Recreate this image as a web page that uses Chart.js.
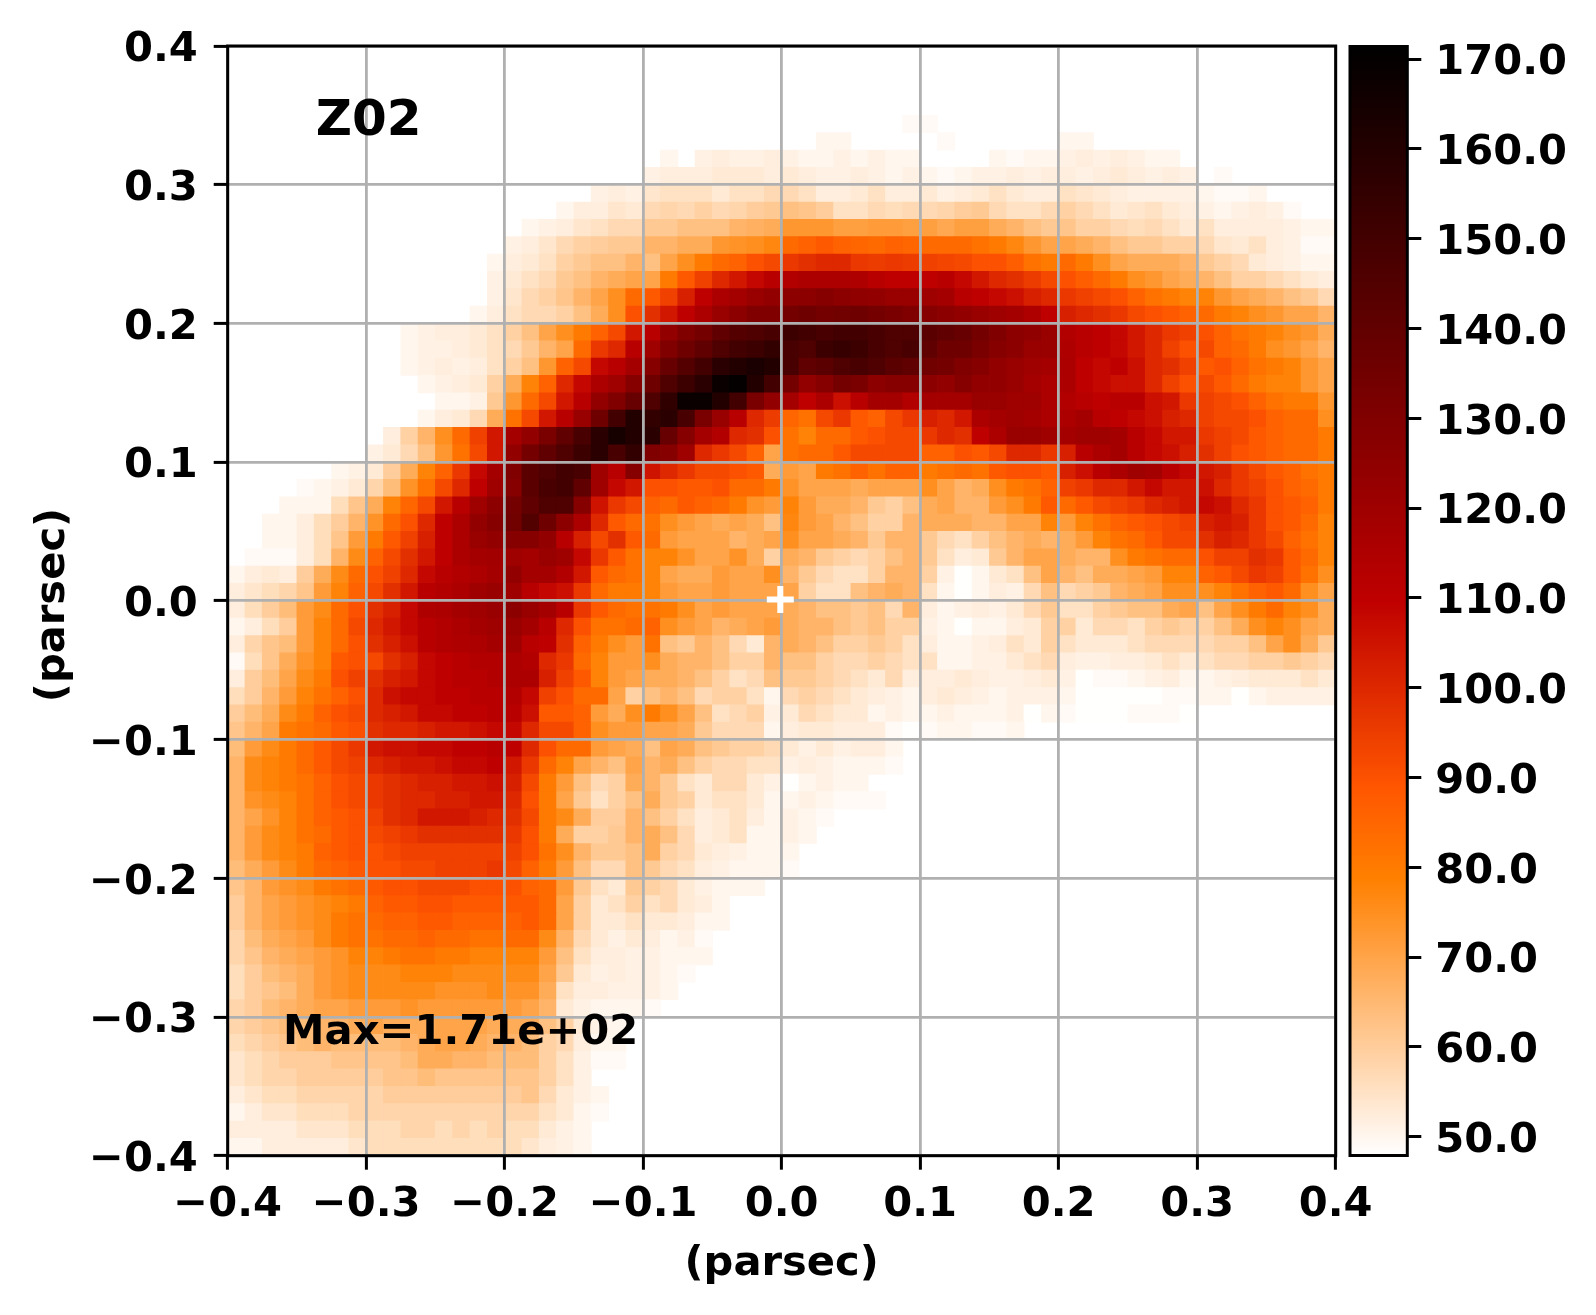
<!DOCTYPE html>
<html>
<head>
<meta charset="utf-8">
<title>Z02</title>
<script src="https://cdn.jsdelivr.net/npm/chart.js@4"></script>
<style>
  html, body { margin: 0; padding: 0; background: #fff; overflow: hidden; }
  canvas { position: absolute; top: 0; }
</style>
</head>
<body>
<canvas id="mapCanvas" width="1596" height="1315" style="left:0"></canvas>
<canvas id="barCanvas" width="256" height="1315" style="left:1340px"></canvas>
<script>
// axis ticks
const axisTicks = [-0.4, -0.3, -0.2, -0.1, 0, 0.1, 0.2, 0.3, 0.4];
const axisLabels = ["\u22120.4", "\u22120.3", "\u22120.2", "\u22120.1", "0.0", "0.1", "0.2", "0.3", "0.4"];
const barTicks = [50, 60, 70, 80, 90, 100, 110, 120, 130, 140, 150, 160, 170];
const barLabels = ["50.0", "60.0", "70.0", "80.0", "90.0", "100.0", "110.0", "120.0", "130.0", "140.0", "150.0", "160.0", "170.0"];
const barRange = [47.9, 171.4];

const binWidth = 0.0125;
const axisTitle = "(parsec)";
const titleText = "Z02";
const maxText = "Max=1.71e+02";
const centerMark = { x: -0.001, y: 0.001 };

// first filled column of each row, top row first
const rowStart = [0,0,0,0,39,34,25,24,21,19,17,16,15,15,15,14,10,10,10,11,12,11,9,8,
  6,4,3,2,2,1,0,0,0,0,0,0,0,0,0,0,0,0,0,0,0,0,0,0,0,0,0,0,0,0,0,0,0,0,0,0,0,0,0,0];

// surface density per cell, 0 = left blank
const rowValues = [
[],[],[],[],
[49,49],
[50,50,0,0,0,0,0,49,0,0,0,0,0,0,50,50],
[50,0,51,52,51,51,52,51,50,50,51,50,51,50,50,0,0,0,0,50,49,50,50,51,52,51,52,51,50,50],
[51,52,52,52,53,53,53,52,53,52,51,51,52,51,50,51,50,49,50,51,51,52,51,52,52,51,52,53,52,51,52,51,0,49],
[51,52,51,54,55,55,55,53,55,55,57,57,55,52,52,53,55,52,52,53,51,52,53,55,53,52,52,55,54,53,52,51,51,51,51,50,49,49,50],
[50,52,52,54,53,57,58,57,59,57,58,60,61,63,62,60,55,55,57,56,57,57,58,60,61,57,55,55,57,59,57,55,53,54,55,53,52,51,50,51,52,51,49],
[50,51,52,54,55,57,57,61,61,63,63,63,66,67,68,73,73,73,71,71,72,72,71,71,69,71,71,68,66,63,61,62,59,59,57,56,57,55,53,55,52,52,52,52,51,50,50],
[51,52,54,57,59,60,61,61,66,66,68,68,73,74,75,77,84,86,88,86,85,84,86,85,84,84,84,82,80,77,73,70,70,68,66,63,61,61,59,59,57,54,53,55,52,51,49,49],
[50,52,53,55,59,61,63,63,66,63,70,75,80,84,86,90,92,96,98,100,100,96,95,96,95,94,93,92,90,90,87,82,80,84,80,75,70,68,68,68,66,61,59,57,53,52,51,50,50],
[51,53,55,57,61,63,66,68,70,70,80,88,94,100,104,108,112,114,116,116,116,115,112,110,110,110,112,108,104,100,98,95,92,90,87,84,80,75,73,70,68,66,63,59,59,57,55,53,52],
[51,54,57,59,62,66,70,75,84,88,94,102,110,116,118,122,124,126,126,128,126,125,124,122,122,120,118,112,110,108,106,102,100,96,94,92,90,86,82,80,78,78,73,70,68,66,63,61,57],
[50,52,55,57,57,59,63,68,75,90,98,104,110,116,122,126,130,130,134,136,134,135,136,134,132,130,128,126,124,122,120,118,115,110,102,100,98,96,92,90,88,86,84,80,78,75,73,70,70,66],
[50,51,52,52,53,55,59,63,70,75,80,86,92,104,112,124,130,134,140,144,146,148,152,150,148,150,150,148,146,146,142,140,138,134,130,126,125,122,114,112,110,108,104,100,96,94,90,86,82,80,78,75,73,68],
[50,51,51,52,53,55,57,61,66,70,84,96,100,112,120,130,136,140,146,150,152,155,148,146,152,154,152,148,146,148,140,136,136,132,128,126,122,122,115,112,110,108,104,100,94,90,92,86,84,80,75,73,70,66],
[50,51,52,51,52,55,59,63,73,86,92,108,112,118,128,138,144,150,158,160,163,160,148,140,142,146,148,146,142,140,135,134,130,128,124,122,120,118,116,110,108,110,106,100,98,94,88,90,86,82,80,78,73,70],
[50,51,52,53,59,68,78,86,100,108,116,120,128,136,146,152,158,168,170,160,150,134,124,128,134,132,126,128,128,126,124,128,124,124,122,118,116,116,110,108,106,106,100,94,90,92,88,84,80,78,78,73,70],
[50,50,51,61,73,84,92,104,112,124,130,138,146,156,168,168,160,150,132,124,118,110,116,106,112,118,118,114,118,118,118,122,122,120,120,116,114,112,110,112,112,106,104,96,94,92,90,86,82,80,80,73],
[50,52,53,57,68,82,92,104,112,122,136,150,160,155,158,148,132,122,112,100,95,85,82,92,96,88,86,92,96,102,100,104,116,118,120,118,116,116,118,112,110,108,106,102,100,94,92,92,90,86,84,84,75],
[52,59,66,75,84,94,104,118,124,132,140,148,158,164,160,158,138,128,118,114,100,98,90,82,78,84,84,88,90,92,92,96,100,98,110,116,122,122,120,118,120,120,118,112,108,104,104,96,94,92,88,86,84,84,80],
[51,53,57,63,73,82,92,104,124,134,140,146,152,158,148,155,130,128,120,100,96,92,86,70,82,84,84,88,92,92,92,92,86,86,90,88,92,100,100,96,102,112,116,118,112,108,106,102,98,94,90,88,86,84,84,80],
[50,51,53,60,68,78,86,96,108,118,130,142,146,150,148,120,112,128,105,100,96,92,92,90,88,68,72,70,80,82,86,82,86,86,80,82,84,82,88,90,90,88,102,106,112,116,120,118,112,108,104,102,96,92,88,86,82,80],
[49,50,51,53,58,64,74,82,92,100,110,120,128,142,148,150,140,120,108,104,90,90,88,88,90,84,84,80,74,70,70,70,68,70,70,70,75,70,66,68,75,80,82,86,94,96,100,100,104,108,104,104,106,100,96,94,90,86,84,80],
[50,50,50,56,62,68,78,85,92,104,112,120,126,134,140,146,146,128,105,96,92,86,84,88,86,84,80,74,72,78,72,68,68,66,61,59,63,68,70,66,66,72,75,80,88,84,88,92,94,96,100,102,104,108,106,100,96,90,88,86,80],
[50,50,52,56,60,66,74,84,90,100,110,116,124,128,135,145,136,126,116,100,88,84,82,75,72,70,68,70,68,63,77,72,70,66,63,59,59,66,68,68,68,66,66,70,70,78,72,78,82,86,88,90,92,94,102,104,102,96,90,88,84,78],
[50,50,52,56,62,72,80,88,94,102,110,116,122,124,128,128,124,112,102,92,98,88,84,72,70,70,70,66,68,70,75,70,70,68,66,61,66,66,61,57,55,59,63,66,68,66,68,72,78,82,84,88,92,92,98,102,100,96,92,86,82,78],
[49,49,49,52,56,66,76,86,92,98,104,110,116,118,119,120,118,122,120,108,96,88,82,78,78,74,70,70,74,68,59,68,66,61,59,57,59,63,66,61,55,52,53,61,66,70,70,68,66,66,75,80,82,84,84,90,94,94,98,96,88,84,78],
[50,52,53,52,60,68,76,84,90,94,100,108,112,114,116,118,124,118,118,114,104,88,84,82,78,70,68,68,72,70,70,75,66,61,57,55,55,59,66,66,59,51,48,50,53,55,63,70,66,63,68,68,70,72,78,78,86,88,92,96,94,88,82,75],
[52,54,56,58,62,72,78,86,92,98,104,112,114,116,120,122,120,112,108,106,96,84,80,80,78,72,70,70,72,70,70,70,70,59,55,55,63,66,68,66,55,50,48,50,52,51,57,63,57,59,61,66,68,70,75,75,75,78,82,86,88,84,75,70],
[52,56,60,64,72,76,84,90,98,102,108,115,116,118,120,122,126,122,118,112,96,88,84,82,82,80,75,70,72,70,70,70,68,66,63,63,61,63,57,66,52,50,51,52,51,53,57,61,55,55,59,61,63,63,68,70,63,70,75,80,84,78,75,68],
[50,52,56,60,72,78,84,92,100,104,108,112,114,116,118,120,122,118,112,100,90,82,82,84,86,75,72,70,66,68,70,72,68,66,66,63,61,63,59,59,51,50,48,50,50,52,53,59,59,53,57,57,55,59,61,59,59,63,68,75,78,75,70,68],
[52,58,62,64,72,78,84,90,98,102,106,112,114,115,116,118,120,112,110,98,86,80,75,72,82,63,61,66,63,57,53,66,68,66,63,59,59,61,59,55,52,50,50,51,52,55,53,59,55,53,53,53,55,57,57,57,57,59,59,63,70,75,68,61],
[49,56,62,68,74,78,88,90,92,98,102,108,110,112,114,114,116,114,100,96,84,78,72,72,75,68,66,66,63,59,59,66,63,63,59,57,57,59,57,55,55,50,50,51,51,53,55,57,52,51,51,52,52,53,55,53,55,57,57,59,59,61,59,57],
[52,60,64,70,76,80,90,94,98,102,104,108,110,112,112,114,116,116,102,94,88,78,72,70,68,68,66,63,59,55,57,63,61,61,59,57,55,53,57,52,52,52,53,52,51,51,52,53,51,48,49,49,50,51,52,50,50,51,52,53,53,53,55,53],
[56,60,66,72,78,82,86,90,100,106,108,108,110,110,112,112,114,108,94,90,84,84,70,59,63,66,63,57,59,59,55,50,57,59,57,55,53,52,51,50,52,53,52,51,50,51,51,51,50,48,48,48,48,48,49,49,50,50,48,50,51,51,51,51],
[60,64,68,76,80,86,90,92,100,102,104,108,108,110,110,112,112,106,88,88,86,72,68,75,80,75,70,63,55,57,59,51,53,57,55,53,53,50,51,50,50,51,50,50,50,51,48,50,49,48,48,48,49,49,49,48],
[62,66,70,80,82,84,88,90,98,100,100,102,104,104,106,108,108,100,92,92,86,75,72,72,70,70,68,61,57,57,57,50,52,53,53,52,52,52,49,48,49,50,50,49,49,50],
[64,72,76,80,84,88,92,96,104,106,106,108,108,110,110,112,110,100,90,84,84,72,70,68,63,70,68,63,61,59,59,57,53,51,53,51,52,52,50],
[66,76,78,80,84,88,92,94,100,102,104,104,106,108,108,110,104,96,84,78,70,66,63,70,66,68,63,59,57,57,55,55,51,52,51,50,50,50,49],
[66,76,78,80,82,86,90,92,96,98,100,102,102,104,104,106,102,92,80,72,63,57,59,68,66,61,55,53,57,57,53,51,48,50,51,50,50],
[66,74,76,78,82,86,90,92,96,98,100,100,102,102,104,104,100,90,80,70,61,55,59,63,68,61,59,53,55,55,53,50,50,51,50,49,49,49],
[66,70,74,78,82,86,88,90,94,98,100,104,104,104,102,100,98,92,80,76,68,60,60,66,63,59,55,52,53,55,52,50,51,50,49],
[66,72,76,78,82,84,88,90,92,94,96,98,98,98,98,98,96,90,80,68,59,59,61,66,68,63,57,52,53,55,50,50,51,50],
[66,72,76,78,80,86,88,90,90,92,94,94,94,94,94,94,94,90,82,75,66,61,61,63,68,59,57,53,52,51,50,50,50],
[64,68,72,76,80,84,86,88,90,90,92,92,94,94,94,96,92,86,80,72,63,57,57,63,61,57,55,52,51,50,50,50,49],
[62,66,72,74,76,80,82,84,88,90,90,92,92,92,90,90,90,86,84,72,61,55,53,61,59,57,53,51,50,50,50],
[60,66,70,72,74,76,78,80,86,88,88,90,90,88,88,88,88,88,84,70,59,53,55,59,55,57,53,52,50],
[60,66,70,72,74,76,80,82,84,86,86,88,88,86,86,86,86,88,84,70,59,53,53,55,53,53,52,50,50],
[58,64,68,70,72,76,80,82,82,84,84,86,84,84,82,82,84,84,76,66,57,53,51,53,52,50,51,49],
[58,62,66,68,70,72,74,78,78,80,82,82,80,80,78,78,78,78,72,63,55,52,52,51,51,50,50,50],
[56,60,64,66,68,72,74,76,76,76,78,78,78,76,76,76,76,76,70,61,53,51,52,51,51,50,49],
[56,60,62,64,68,72,74,76,76,76,76,76,74,74,74,76,74,74,68,55,52,52,51,51,51,50],
[58,60,64,66,68,70,70,72,72,72,74,72,72,72,72,72,72,70,66,53,51,50,50,50,49],
[58,60,62,64,64,66,66,68,70,68,68,68,70,70,70,68,68,68,63,59,53,51,50],
[56,58,60,62,64,66,64,64,64,64,66,68,70,70,68,66,66,64,59,57,52,50,50],
[54,56,58,60,60,60,62,62,62,62,64,68,68,66,66,64,64,64,59,55,51,49,49],
[54,56,58,58,60,60,60,60,60,62,62,64,62,62,62,62,62,62,59,55,51],
[52,54,56,56,58,58,58,58,58,60,60,60,60,60,60,60,60,62,57,53,51,50],
[50,52,54,54,56,56,56,58,58,58,58,58,58,58,58,58,58,58,55,53,50,49],
[52,52,52,52,54,54,54,56,56,56,58,58,56,58,56,58,56,56,53,51,50],
[50,50,52,52,52,52,52,54,56,56,56,56,56,56,56,56,56,54,52,51,50]
];

const xMin = -0.4, yMax = 0.4;
const cells = [];
rowValues.forEach((row, j) => {
  row.forEach((v, k) => {
    if (v > 0) {
      cells.push({ x: xMin + (rowStart[j] + k + 0.5) * binWidth, y: yMax - (j + 0.5) * binWidth, v: v });
    }
  });
});

// gist_heat reversed, as rgb
function heatRgb(t) {
  const u = 1 - Math.min(1, Math.max(0, t));
  const clip = a => Math.round(255 * Math.min(1, Math.max(0, a)));
  return "rgb(" + clip(1.5 * u) + "," + clip(2 * u - 1) + "," + clip(4 * u - 3) + ")";
}
function heatColor(v) {
  return heatRgb((v - barRange[0]) / (barRange[1] - barRange[0]));
}

const FONT = "'DejaVu Sans'";
Chart.defaults.font.family = FONT;
Chart.defaults.font.weight = "bold";
Chart.defaults.color = "#000";

function axisOptions(position, boxSize) {
  const horizontal = position === "bottom";
  return {
    type: "linear",
    position: position,
    min: -0.4,
    max: 0.4,
    afterBuildTicks: s => { s.ticks = axisTicks.map(v => ({ value: v })); },
    afterFit: s => { if (horizontal) s.height = boxSize; else s.width = boxSize; },
    border: { display: false },
    grid: { color: "#b0b0b0", lineWidth: 2.8, z: 1, tickLength: 14, tickWidth: 3, tickColor: "#000" },
    ticks: {
      autoSkip: false,
      maxRotation: 0,
      padding: horizontal ? 10 : 16,
      labelOffset: horizontal ? 0 : 4.5,
      font: { size: 41.67, weight: "bold" },
      callback: (v, i) => axisLabels[i]
    },
    title: {
      display: horizontal,
      text: axisTitle,
      font: { size: 41.67, weight: "bold" },
      padding: { top: 0, bottom: 26 }
    }
  };
}

const overlay = {
  id: "overlay",
  afterDraw(chart) {
    const { ctx, chartArea: a, scales: { x, y } } = chart;
    ctx.save();
    ctx.strokeStyle = "#000";
    ctx.lineWidth = 3;
    ctx.strokeRect(a.left, a.top, a.right - a.left, a.bottom - a.top);

    const cx = x.getPixelForValue(centerMark.x), cy = y.getPixelForValue(centerMark.y);
    ctx.strokeStyle = "#fff";
    ctx.lineWidth = 6;
    ctx.beginPath();
    ctx.moveTo(cx - 13.5, cy);
    ctx.lineTo(cx + 13.5, cy);
    ctx.moveTo(cx, cy - 13.5);
    ctx.lineTo(cx, cy + 13.5);
    ctx.stroke();

    ctx.fillStyle = "#000";
    ctx.textBaseline = "alphabetic";
    ctx.textAlign = "left";
    ctx.font = "bold 50px " + FONT;
    ctx.fillText(titleText, x.getPixelForValue(-0.3365), y.getPixelForValue(0.336));
    ctx.font = "bold 41.67px " + FONT;
    ctx.fillText(maxText, x.getPixelForValue(-0.36), y.getPixelForValue(-0.3194));

    // y axis title, sits a little below the axis middle
    ctx.save();
    ctx.translate(53, 605);
    ctx.rotate(-Math.PI / 2);
    ctx.textAlign = "center";
    ctx.textBaseline = "middle";
    ctx.fillText(axisTitle, 0, 0);
    ctx.restore();
    ctx.restore();
  }
};

new Chart(document.getElementById("mapCanvas"), {
  type: "scatter",
  data: {
    datasets: [{
      data: cells,
      pointStyle: "rect",
      borderWidth: 0,
      pointBorderWidth: 0,
      backgroundColor: c => heatColor(c.raw.v),
      pointRadius: c => {
        const sx = c.chart.scales.x;
        const half = (sx.getPixelForValue(binWidth) - sx.getPixelForValue(0)) / 2 + 0.4;
        return half / Math.SQRT1_2;
      }
    }]
  },
  options: {
    responsive: false,
    animation: false,
    events: [],
    layout: { padding: { left: 0, top: 46, right: 260.3, bottom: 0 } },
    plugins: { legend: { display: false }, tooltip: { enabled: false } },
    scales: {
      x: axisOptions("bottom", 159.3),
      y: axisOptions("left", 227.7)
    }
  },
  plugins: [overlay]
});

const barFrame = {
  id: "barFrame",
  afterDraw(chart) {
    const { ctx, chartArea: a } = chart;
    ctx.save();
    ctx.strokeStyle = "#000";
    ctx.lineWidth = 3;
    ctx.strokeRect(a.left, a.top, a.right - a.left, a.bottom - a.top);
    ctx.restore();
  }
};

new Chart(document.getElementById("barCanvas"), {
  type: "bar",
  data: {
    labels: ["density"],
    datasets: [{
      data: [barRange],
      barPercentage: 1,
      categoryPercentage: 1,
      borderWidth: 0,
      backgroundColor: c => {
        const area = c.chart.chartArea;
        if (!area) return "#000";
        const g = c.chart.ctx.createLinearGradient(0, area.bottom, 0, area.top);
        for (let k = 0; k <= 48; k++) g.addColorStop(k / 48, heatRgb(k / 48));
        return g;
      }
    }]
  },
  options: {
    responsive: false,
    animation: false,
    events: [],
    layout: { padding: { left: 10, top: 46.5, right: 0, bottom: 159.5 } },
    plugins: { legend: { display: false }, tooltip: { enabled: false } },
    scales: {
      x: { display: false },
      y: {
        position: "right",
        min: barRange[0],
        max: barRange[1],
        afterBuildTicks: s => { s.ticks = barTicks.map(v => ({ value: v })); },
        afterFit: s => { s.width = 188.7; },
        border: { display: false },
        grid: { drawOnChartArea: false, tickLength: 14, tickWidth: 3, tickColor: "#000" },
        ticks: {
          autoSkip: false,
          padding: 14,
          labelOffset: 4.5,
          font: { size: 41.67, weight: "bold" },
          callback: (v, i) => barLabels[i]
        }
      }
    }
  },
  plugins: [barFrame]
});
</script>
</body>
</html>
